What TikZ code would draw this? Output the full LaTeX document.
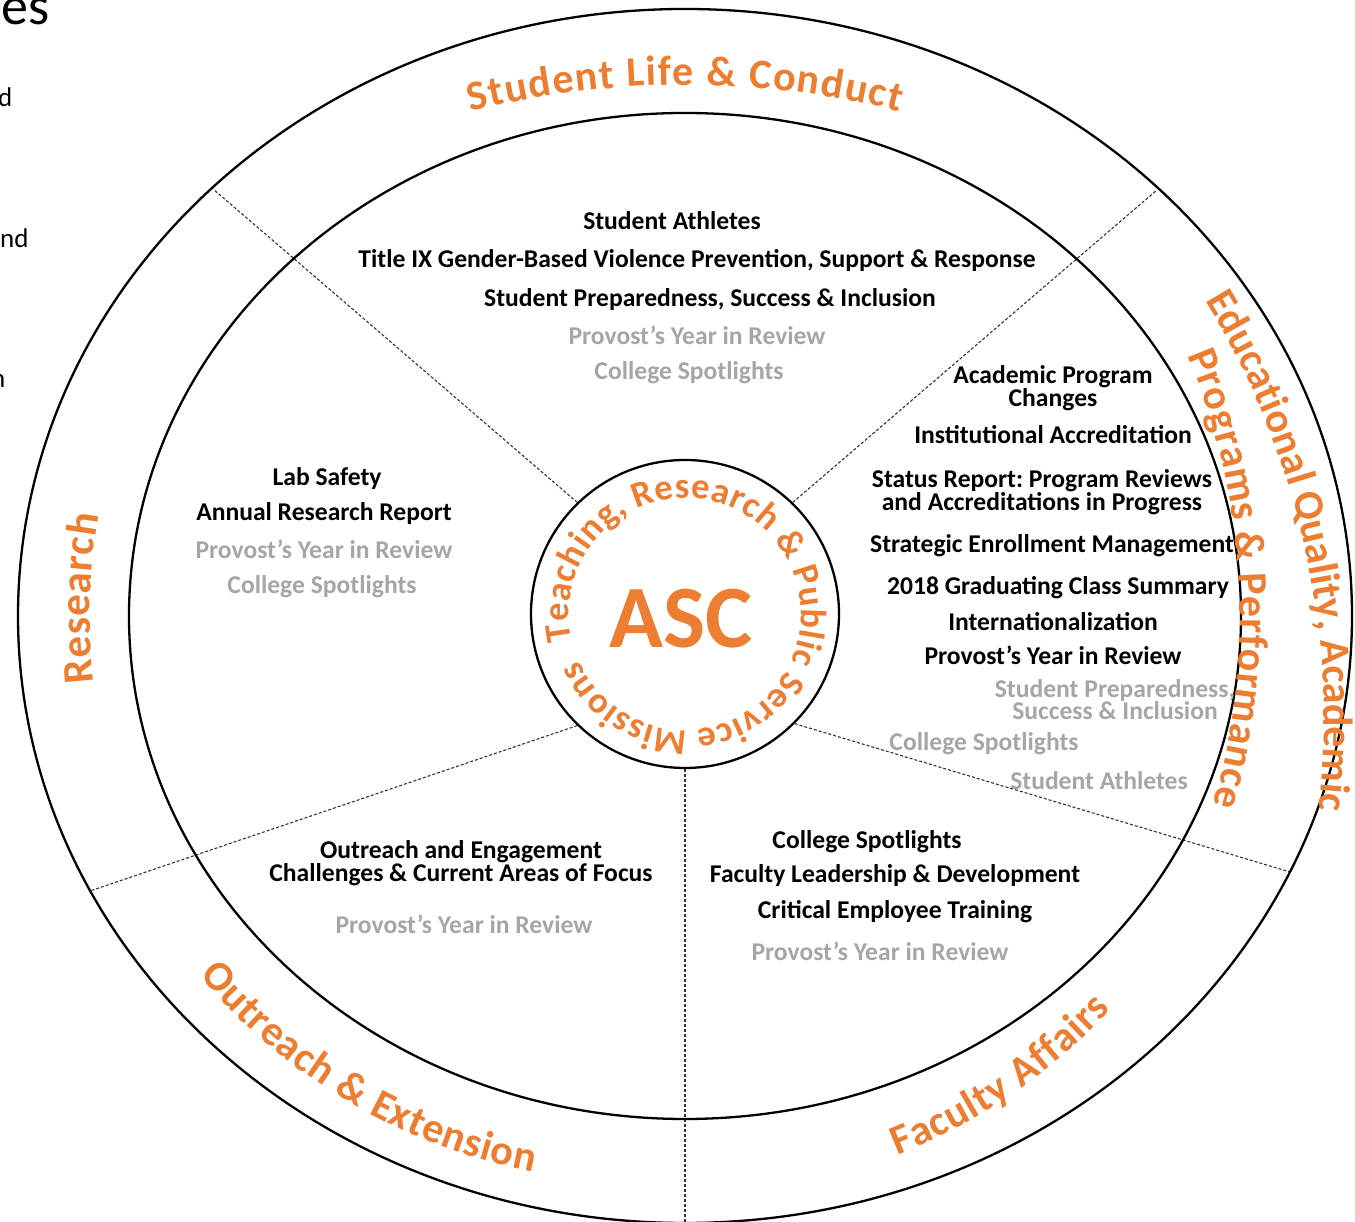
\documentclass[tikz,border=0pt]{standalone}
\usepackage{fontspec}
\setmainfont{Carlito}
\usetikzlibrary{decorations.text}
\frenchspacing
\definecolor{acc}{RGB}{237,125,49}
\definecolor{dimgray}{RGB}{166,166,166}
\newcommand\arcfont{\fontsize{42}{42}\selectfont\bfseries\color{acc}}
\newcommand\resfont{\fontsize{43}{43}\selectfont\bfseries\color{acc}}
\newcommand\midfont{\fontsize{36.5}{36.5}\selectfont\bfseries\color{acc}}
\begin{document}
\begin{tikzpicture}[x=1pt,y=1pt,
  ring/.style={line width=2.3pt, draw=black},
  divider/.style={line width=1.1pt, draw=black!80, dash pattern=on 3pt off 2pt},
  item/.style={font=\fontsize{25.6}{22}\selectfont\bfseries, align=center, anchor=base, inner sep=0pt},
  dim/.style={item, text=dimgray},
  frag/.style={font=\fontsize{27}{27}\selectfont, anchor=base west, inner sep=0pt},
  arclabel/.style={decorate, decoration={text along path, text align={fit to path}, text={#1}}}
]
\useasboundingbox (0,0) rectangle (1355,1222);
\fill[white] (0,0) rectangle (1355,1222);
\clip (0,0) rectangle (1355,1222);

% fragments of neighbouring text
\node[frag, font=\fontsize{54}{54}\selectfont] (f1) at (1,1197) {es};
\node[frag] (f2) at (-2,1115) {d};
\node[frag] (f3) at (0,974) {nd};
\node[frag] (f4) at (-9,834) {n};

% centre circle
\node[circle, ring, minimum size=308pt, inner sep=0pt] (asc) at (685,608) {};

% dividers
\coordinate (oTL) at (213,1033);
\coordinate (oTR) at (1157,1032);
\coordinate (oBL) at (90,331);
\coordinate (oBR) at (1290,350);
\coordinate (oB) at (685,-3);
\draw[divider] (asc.134) -- (oTL);
\draw[divider] (asc.46) -- (oTR);
\draw[divider] (asc.226) -- (oBL);
\draw[divider] (asc.315) -- (oBR);
\draw[divider] (asc.270) -- (oB);

% rings
\draw[ring] (685,606) ellipse [x radius=667, y radius=607];
\draw[ring] (685,606) ellipse [x radius=556, y radius=503];

% centre texts
\node[font=\fontsize{89}{89}\selectfont\bfseries, text=acc, anchor=base, inner sep=0pt] (asctxt) at (681,574) {ASC};
\path[arclabel={|\midfont|Teaching, Research {\&} Public Service Missions}]
  (685,608) ++(193:116) arc[start angle=193, end angle=-156.4, radius=116];

% outer ring labels
\path[arclabel={|\arcfont|Student Life {\&} Conduct}]
  (685,257) ++(104.1:880) arc[start angle=104.1, end angle=75.9, radius=880];
\path[arclabel={|\resfont|Research}]
  (685,606) ++(186.4:595) arc[start angle=186.4, end angle=170.2, radius=595];
\path[arclabel={|\arcfont|Educational Quality, Academic}]
  (519,501) ++(31.5:805) arc[start angle=31.5, end angle=-6, radius=805];
\path[arclabel={|\arcfont|Programs {\&} Performance}]
  (562,605) ++(22.7:678) arc[start angle=22.7, end angle=-16.1, radius=678];
\path[arclabel={|\arcfont|Outreach {\&} Extension}]
  (642.5,617.2) ++(219.9:577.7) arc[start angle=219.9, end angle=259.1, radius=577.7];
\path[arclabel={|\arcfont|Faculty Affairs}]
  (685,606) ++(291.5:580) arc[start angle=291.5, end angle=317.3, radius=580];

% top sector
\node[item] (t1) at (672,992) {Student Athletes};
\node[item] (t2) at (697,954) {Title IX Gender-Based Violence Prevention, Support \& Response};
\node[item] (t3) at (710,915) {Student Preparedness, Success \& Inclusion};
\node[dim] (t4) at (697,877) {Provost’s Year in Review};
\node[dim] (t5) at (689,842) {College Spotlights};

% right sector
\node[item] (r1) at (1053,815) {Academic Program\\Changes};
\node[item] (r2) at (1053,778) {Institutional Accreditation};
\node[item] (r3) at (1042,711) {Status Report: Program Reviews\\and Accreditations in Progress};
\node[item] (r4) at (1052,669) {Strategic Enrollment Management};
\node[item] (r5) at (1058,627) {2018 Graduating Class Summary};
\node[item] (r6) at (1053,591) {Internationalization};
\node[item] (r7) at (1053,557) {Provost’s Year in Review};
\node[dim] (r8) at (1115,502) {Student Preparedness,\\Success \& Inclusion};
\node[dim] (r9) at (984,471) {College Spotlights};
\node[dim] (r10) at (1099,432) {Student Athletes};

% left sector
\node[item] (l1) at (327,736) {Lab Safety};
\node[item] (l2) at (324,701) {Annual Research Report};
\node[dim] (l3) at (324,663) {Provost’s Year in Review};
\node[dim] (l4) at (322,628) {College Spotlights};

% bottom-left sector
\node[item] (b1) at (461,340) {Outreach and Engagement\\Challenges \& Current Areas of Focus};
\node[dim] (b2) at (464,288) {Provost’s Year in Review};

% bottom-right sector
\node[item] (c1) at (867,373) {College Spotlights};
\node[item] (c2) at (895,339) {Faculty Leadership \& Development};
\node[item] (c3) at (895,303) {Critical Employee Training};
\node[dim] (c4) at (880,261) {Provost’s Year in Review};
\end{tikzpicture}
\end{document}
